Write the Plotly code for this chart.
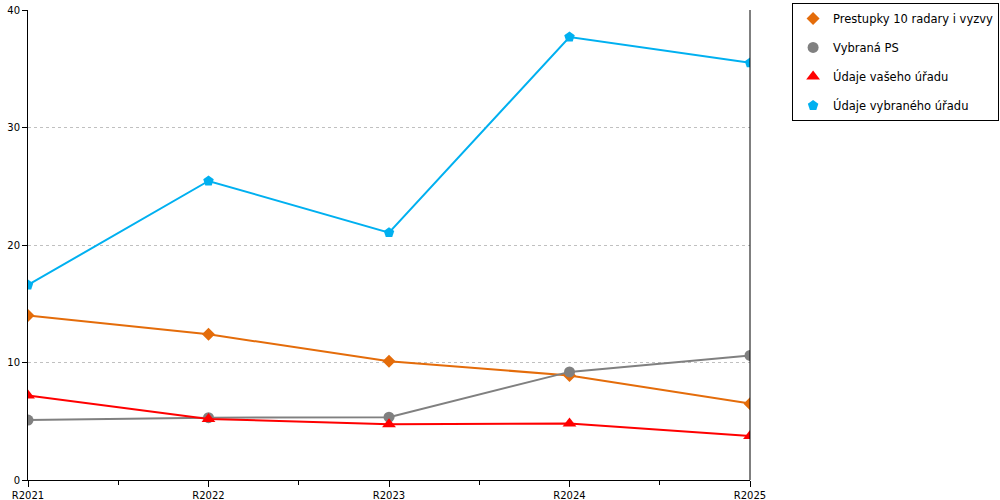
import plotly.graph_objects as go

years = ["R2021", "R2022", "R2023", "R2024", "R2025"]

prestupky = [14.0, 12.4, 10.1, 8.9, 6.5]
vybrana_ps = [5.1, 5.3, 5.35, 9.2, 10.6]
vas_urad = [7.2, 5.2, 4.75, 4.8, 3.75]
vybrany_urad = [16.6, 25.45, 21.05, 37.7, 35.5]

names = ["Prestupky 10 radary i vyzvy", "Vybraná PS", "Údaje vašeho úřadu", "Údaje vybraného úřadu"]
colors = ["#E46C0A", "#808080", "#FF0000", "#00B0F0"]
symbols = ["diamond", "circle", "triangle-up", "pentagon"]
sizes = [10, 11, 12, 11]

x = list(range(len(years)))

fig = go.Figure()
for i, (vals, name) in enumerate(zip([prestupky, vybrana_ps, vas_urad, vybrany_urad], names)):
    fig.add_trace(go.Scatter(
        x=x, y=vals, name=name, mode="lines+markers",
        line=dict(color=colors[i], width=2),
        marker=dict(symbol=symbols[i], size=sizes[i], color=colors[i]),
        showlegend=False,
    ))
    # legend entry with marker only, like the original
    fig.add_trace(go.Scatter(
        x=[None], y=[None], name=name, mode="markers",
        marker=dict(symbol=symbols[i], size=sizes[i], color=colors[i]),
        legendgroup=str(i),
    ))

font = dict(family="DejaVu Sans, Verdana, sans-serif", size=10, color="black")

fig.update_layout(
    width=1000, height=500,
    margin=dict(l=28, r=250, t=10, b=20, autoexpand=False),
    paper_bgcolor="white", plot_bgcolor="white",
    font=font,
    showlegend=True,
    legend=dict(
        x=1.345, xanchor="right", y=1.015, yanchor="top",
        bordercolor="black", borderwidth=1,
        font=dict(family="DejaVu Sans, Verdana, sans-serif", size=11.5, color="black"),
        tracegroupgap=10,
    ),
    xaxis=dict(
        range=[0, len(years) - 1], tickvals=x, ticktext=years,
        showgrid=False, zeroline=False, automargin=False,
        showline=True, linecolor="black", linewidth=1,
        ticks="outside", ticklen=6, tickcolor="black",
        minor=dict(dtick=0.5, ticks="outside", ticklen=4, tickcolor="black", showgrid=False),
    ),
    yaxis=dict(
        range=[0, 40], dtick=10, automargin=False,
        showgrid=True, gridcolor="#C0C0C0", griddash="dot", gridwidth=1,
        zeroline=False,
        showline=True, linecolor="black", linewidth=1,
        ticks="outside", ticklen=5, tickcolor="black",
    ),
)

# right border line of the plot area
fig.add_shape(type="line", xref="x domain", yref="y domain", x0=1, x1=1, y0=0, y1=1,
              line=dict(color="black", width=1))

fig.write_html("out.html", config={"displayModeBar": False},
               post_script="document.body.style.margin='0';")
